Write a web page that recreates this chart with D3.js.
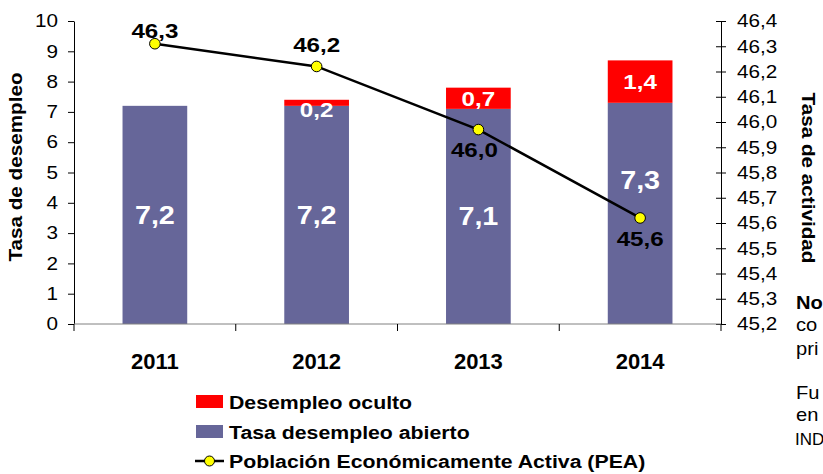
<!DOCTYPE html>
<html>
<head>
<meta charset="utf-8">
<script src="https://cdn.jsdelivr.net/npm/d3@7"></script>
<style>
  html, body { margin: 0; padding: 0; background: #fff; }
  svg { display: block; }
  text { font-family: "Liberation Sans", Arial, sans-serif; }
</style>
</head>
<body>
<svg id="chart" width="823" height="474"></svg>
<script>
// ---- data ----
const years = ["2011", "2012", "2013", "2014"];
const openUnemployment = [7.2, 7.2, 7.1, 7.3];      // Tasa desempleo abierto
const hiddenUnemployment = [0, 0.2, 0.7, 1.4];       // Desempleo oculto
const activityRate = [46.31, 46.22, 45.97, 45.62];   // PEA (tasa de actividad)
const leftTicks = [0, 1, 2, 3, 4, 5, 6, 7, 8, 9, 10];
const rightTicks = [45.2, 45.3, 45.4, 45.5, 45.6, 45.7, 45.8, 45.9, 46.0, 46.1, 46.2, 46.3, 46.4];
const legendLabels = ["Desempleo oculto", "Tasa desempleo abierto", "Población Económicamente Activa (PEA)"];
const noteLines = ["No", "co", "pri", "Fu", "en", "IND"];   // visible part of the side note (cut by the frame)

(function () {
const BLUE = "#666699", RED = "#FF0000", YELLOW = "#FFFF00";
const K = 1.15; // horizontal text stretch
const fmt = v => d3.format(".1f")(v).replace(".", ",");

const svg = d3.select("#chart");
svg.append("rect").attr("width", 823).attr("height", 474).attr("fill", "#fff");

const pL = 74, pR = 721, pT = 21, pB = 324;
const x = d3.scaleBand().domain(years).range([pL, pR]).paddingInner(0.6).paddingOuter(0.3);
const yL = d3.scaleLinear().domain([0, 10]).range([pB, pT]);
const yR = d3.scaleLinear().domain([45.2, 46.4]).range([pB, pT]);

// ---- bars ----
const rows = years.map((y, i) => ({ year: y, open: openUnemployment[i], hidden: hiddenUnemployment[i], pea: activityRate[i] }));
const g = svg.append("g");
g.selectAll("rect.open").data(rows).join("rect")
  .attr("class", "open")
  .attr("x", d => x(d.year)).attr("width", x.bandwidth())
  .attr("y", d => yL(d.open)).attr("height", d => yL(0) - yL(d.open))
  .attr("fill", BLUE);
g.selectAll("rect.hidden").data(rows.filter(d => d.hidden > 0)).join("rect")
  .attr("class", "hidden")
  .attr("x", d => x(d.year)).attr("width", x.bandwidth())
  .attr("y", d => yL(d.open + d.hidden)).attr("height", d => yL(d.open) - yL(d.open + d.hidden))
  .attr("fill", RED);

// ---- axes ----
const axL = svg.append("g").attr("transform", `translate(${pL},0)`)
  .call(d3.axisLeft(yL).tickValues(leftTicks).tickSize(6).tickSizeOuter(0).tickPadding(10).tickFormat(d3.format("d")));
axL.select(".domain").attr("stroke", "#000");
axL.selectAll("text").attr("class", "st").attr("font-size", 18).attr("fill", "#000").attr("font-family", "Liberation Sans, Arial, sans-serif");
svg.append("line").attr("x1", pL).attr("x2", pL).attr("y1", pB).attr("y2", pB + 7).attr("stroke", "#000");

const axR = svg.append("g").attr("transform", `translate(${pR},0)`)
  .call(d3.axisRight(yR).tickValues(rightTicks).tickSize(5).tickSizeOuter(0).tickPadding(11).tickFormat(fmt));
axR.select(".domain").attr("stroke", "#000");
axR.selectAll(".tick line").attr("x1", -5).attr("x2", 5);
axR.selectAll("text").attr("class", "st").attr("font-size", 18).attr("fill", "#000").attr("font-family", "Liberation Sans, Arial, sans-serif");
svg.append("line").attr("x1", pR).attr("x2", pR).attr("y1", pB).attr("y2", pB + 7).attr("stroke", "#000");

// bottom category axis
svg.append("line").attr("x1", pL).attr("x2", pR).attr("y1", pB).attr("y2", pB).attr("stroke", "#808080");
const gap = x.step() * x.paddingInner();
years.slice(1).forEach(yr => {
  const bx = x(yr) - gap / 2;
  svg.append("line").attr("x1", bx).attr("x2", bx).attr("y1", pB).attr("y2", pB + 7).attr("stroke", "#000");
});
svg.selectAll("text.year").data(years).join("text")
  .attr("class", "year")
  .attr("x", d => x(d) + x.bandwidth() / 2).attr("y", 369)
  .attr("text-anchor", "middle").attr("font-size", 22).attr("font-weight", "bold").attr("fill", "#000")
  .text(d => d);

// ---- bar labels ----
const cx = d => x(d.year) + x.bandwidth() / 2;
rows.forEach(d => {
  let ly = (yL(0) + yL(d.open)) / 2;
  const py = yR(d.pea);
  if (Math.abs(ly - py) < 30) ly = py - 38;
  svg.append("text").attr("class", "st").attr("x", cx(d)).attr("y", ly).attr("dy", "0.36em")
    .attr("text-anchor", "middle").attr("font-size", 25).attr("font-weight", "bold").attr("fill", "#fff")
    .text(fmt(d.open));
  if (d.hidden > 0) {
    const t = yL(d.open + d.hidden), b = yL(d.open);
    const hy = Math.max((t + b) / 2, t + 10);
    svg.append("text").attr("class", "st").attr("x", cx(d)).attr("y", hy).attr("dy", "0.36em")
      .attr("text-anchor", "middle").attr("font-size", 21).attr("font-weight", "bold").attr("fill", "#fff")
      .text(fmt(d.hidden));
  }
});

// ---- line ----
const line = d3.line().x(d => cx(d)).y(d => yR(d.pea));
svg.append("path").datum(rows).attr("d", line).attr("fill", "none").attr("stroke", "#000").attr("stroke-width", 2.5);
svg.selectAll("circle.pt").data(rows).join("circle")
  .attr("class", "pt").attr("cx", d => cx(d)).attr("cy", d => yR(d.pea)).attr("r", 5.3)
  .attr("fill", YELLOW).attr("stroke", "#000").attr("stroke-width", 1);
rows.forEach((d, i) => {
  const py = yR(d.pea);
  const above = i < 2;
  const ly = above ? Math.max(py - 22, 30) : py + 20;
  svg.append("text").attr("class", "st").attr("x", cx(d) - (i === 2 ? 4 : 0)).attr("y", ly).attr("dy", "0.36em")
    .attr("text-anchor", "middle").attr("font-size", 21).attr("font-weight", "bold").attr("fill", "#000")
    .text(fmt(d.pea));
});

// ---- axis titles ----
svg.append("text").attr("class", "st").attr("transform", "translate(22,167) rotate(-90)")
  .attr("text-anchor", "middle").attr("font-size", 18).attr("font-weight", "bold").text("Tasa de desempleo");
svg.append("text").attr("class", "st").attr("transform", "translate(802,178) rotate(90)")
  .attr("text-anchor", "middle").attr("font-size", 18).attr("font-weight", "bold").text("Tasa de actividad");

// ---- legend ----
const lg = svg.append("g");
lg.append("rect").attr("x", 196).attr("y", 395).attr("width", 27).attr("height", 13).attr("fill", RED);
lg.append("rect").attr("x", 196).attr("y", 425).attr("width", 27).attr("height", 13).attr("fill", BLUE);
lg.append("line").attr("x1", 195).attr("x2", 224).attr("y1", 461).attr("y2", 461).attr("stroke", "#000").attr("stroke-width", 2.5);
lg.append("circle").attr("cx", 209.5).attr("cy", 461).attr("r", 5).attr("fill", YELLOW).attr("stroke", "#000");
legendLabels.forEach((t, i) => {
  lg.append("text").attr("class", "st").attr("x", 229).attr("y", [409, 439, 468][i])
    .attr("font-size", 18.5).attr("font-weight", "bold").attr("fill", "#000").text(t);
});

// ---- side note fragments ----
const noteY = [309, 331, 355, 399, 421, 445];
noteLines.forEach((t, i) => {
  const last = i === noteLines.length - 1;
  svg.append("text").attr("class", last ? null : "st").attr("x", last ? 795 : 796).attr("y", noteY[i])
    .attr("font-size", last ? 17 : 17.5).attr("font-weight", i === 0 ? "bold" : "normal")
    .attr("fill", "#000").text(t);
});

// ---- apply horizontal stretch to marked texts ----
svg.selectAll("text.st").each(function () {
  const s = d3.select(this);
  const tx = +s.attr("x") || 0, ty = +s.attr("y") || 0;
  const base = s.attr("transform") || "";
  s.attr("transform", `${base} translate(${tx},${ty}) scale(${K},1)`).attr("x", 0).attr("y", 0);
});
})();
</script>
</body>
</html>
